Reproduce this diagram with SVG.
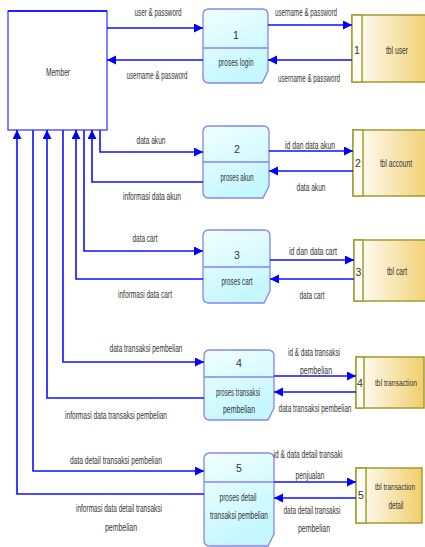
<svg xmlns="http://www.w3.org/2000/svg" width="425" height="547" viewBox="0 0 425 547">
<defs>
<linearGradient id="pg" x1="0" y1="0" x2="0.4" y2="1"><stop offset="0" stop-color="#F2FFFF"/><stop offset="1" stop-color="#C4F7FF"/></linearGradient>
<linearGradient id="tg" x1="0" y1="0" x2="1" y2="0"><stop offset="0" stop-color="#FFFFFF"/><stop offset="1" stop-color="#F1CD6A"/></linearGradient>
<marker id="ah" markerUnits="userSpaceOnUse" markerWidth="10" markerHeight="10" refX="9" refY="4.5" orient="auto"><path d="M0,0 L9,4.5 L0,9 z" fill="#0000FF"/></marker>
</defs>
<style>
text{font-family:"Liberation Sans Narrow","Liberation Sans",Arial,sans-serif;font-size:10.5px;fill:#333;text-anchor:middle}
.sm{font-size:9.5px}
.proc{fill:url(#pg);stroke:#8585F2;stroke-width:1.3}
.pl{fill:none;stroke:#8585F2;stroke-width:1.3}
.tb{fill:url(#tg);stroke:#A29C2E;stroke-width:1.5}
.tl{fill:#FFFEF6;stroke:#A29C2E;stroke-width:1.5}
.c{fill:none;stroke:#1010FF;stroke-width:1.6;marker-end:url(#ah)}
</style>
<g id="member">
<rect x="8" y="11" width="99" height="119" fill="#fff" stroke="#3C3CFF" stroke-width="1.3"/>
<line x1="8" y1="11" x2="107" y2="11" stroke="#2020FF" stroke-width="2"/>
<text x="58" y="76" textLength="24" lengthAdjust="spacingAndGlyphs">Member</text>
</g>
<g id="p1">
<path class="proc" d="M209,9 H262 Q268,9 268,15 V71 L262,83 H209 Q203,83 203,77 V15 Q203,9 209,9 Z"/>
<line class="pl" x1="203" y1="48" x2="268" y2="48"/>
<text x="236" y="39">1</text>
<text x="236" y="66" textLength="35" lengthAdjust="spacingAndGlyphs">proses login</text>
</g>
<g id="p2">
<path class="proc" d="M209,126 H263 Q269,126 269,132 V186 L263,198 H209 Q203,198 203,192 V132 Q203,126 209,126 Z"/>
<line class="pl" x1="203" y1="162" x2="269" y2="162"/>
<text x="237" y="153">2</text>
<text x="237" y="181" textLength="33" lengthAdjust="spacingAndGlyphs">proses akun</text>
</g>
<g id="p3">
<path class="proc" d="M209,230 H264 Q270,230 270,236 V291 L264,303 H209 Q203,303 203,297 V236 Q203,230 209,230 Z"/>
<line class="pl" x1="203" y1="267" x2="270" y2="267"/>
<text x="237" y="259">3</text>
<text x="237" y="285" textLength="31" lengthAdjust="spacingAndGlyphs">proses cart</text>
</g>
<g id="p4">
<path class="proc" d="M210,350 H268 Q274,350 274,356 V408 L268,420 H210 Q204,420 204,414 V356 Q204,350 210,350 Z"/>
<line class="pl" x1="204" y1="377" x2="274" y2="377"/>
<text x="239" y="367">4</text>
<text x="238" y="396" textLength="44" lengthAdjust="spacingAndGlyphs">proses transaksi</text>
<text x="239" y="413" textLength="32" lengthAdjust="spacingAndGlyphs">pembelian</text>
</g>
<g id="p5">
<path class="proc" d="M210,453 H268 Q274,453 274,459 V534 L268,546 H210 Q204,546 204,540 V459 Q204,453 210,453 Z"/>
<line class="pl" x1="204" y1="482" x2="274" y2="482"/>
<text x="239" y="472">5</text>
<text x="238" y="501" textLength="37" lengthAdjust="spacingAndGlyphs">proses detail</text>
<text x="239" y="519" textLength="58" lengthAdjust="spacingAndGlyphs">transaksi pembelian</text>
</g>
<g id="t1">
<rect class="tb" x="352" y="15" width="80" height="67"/>
<rect class="tl" x="352" y="15" width="10" height="67"/>
<text x="357" y="54">1</text>
<text x="397" y="54" textLength="22" lengthAdjust="spacingAndGlyphs">tbl user</text>
</g>
<g id="t2">
<rect class="tb" x="353" y="130" width="80" height="66"/>
<rect class="tl" x="353" y="130" width="10" height="66"/>
<text x="358" y="167">2</text>
<text x="396" y="167" textLength="32" lengthAdjust="spacingAndGlyphs">tbl account</text>
</g>
<g id="t3">
<rect class="tb" x="354" y="240" width="80" height="61"/>
<rect class="tl" x="354" y="240" width="9" height="61"/>
<text x="358.5" y="276">3</text>
<text x="397" y="275" textLength="20" lengthAdjust="spacingAndGlyphs">tbl cart</text>
</g>
<g id="t4">
<rect class="tb" x="356" y="357" width="68" height="51"/>
<rect class="tl" x="356" y="357" width="8" height="51"/>
<text x="360" y="387">4</text>
<text class="sm" x="396" y="386" textLength="42" lengthAdjust="spacingAndGlyphs">tbl transaction</text>
</g>
<g id="t5">
<rect class="tb" x="356" y="468" width="66" height="55"/>
<rect class="tl" x="356" y="468" width="10" height="55"/>
<text x="361" y="499">5</text>
<text class="sm" x="395" y="490" textLength="40" lengthAdjust="spacingAndGlyphs">tbl transaction</text>
<text x="396" y="509" textLength="15" lengthAdjust="spacingAndGlyphs">detail</text>
</g>
<g id="connectors">
<path class="c" d="M107,28 H203"/>
<path class="c" d="M203,60 H107"/>
<path class="c" d="M268,25 H352"/>
<path class="c" d="M352,60 H268"/>
<path class="c" d="M100,130 V152 H203"/>
<path class="c" d="M203,182 H92 V130"/>
<path class="c" d="M269,151 H353"/>
<path class="c" d="M353,171 H269"/>
<path class="c" d="M84,130 V251 H203"/>
<path class="c" d="M203,279 H76 V130"/>
<path class="c" d="M270,260 H354"/>
<path class="c" d="M354,279 H270"/>
<path class="c" d="M63,130 V362 H204"/>
<path class="c" d="M204,398 H47 V130"/>
<path class="c" d="M274,376 H356"/>
<path class="c" d="M356,392 H274"/>
<path class="c" d="M33,130 V471 H204"/>
<path class="c" d="M204,494 H17 V130"/>
<path class="c" d="M274,482 H356"/>
<path class="c" d="M356,498 H274"/>
</g>
<g id="labels">
<text x="158" y="16" textLength="47" lengthAdjust="spacingAndGlyphs">user &amp; password</text>
<text x="157" y="79" textLength="61" lengthAdjust="spacingAndGlyphs">username &amp; password</text>
<text x="306" y="16" textLength="62" lengthAdjust="spacingAndGlyphs">username &amp; password</text>
<text x="309" y="82" textLength="62" lengthAdjust="spacingAndGlyphs">username &amp; password</text>
<text x="151" y="144" textLength="29" lengthAdjust="spacingAndGlyphs">data akun</text>
<text x="152" y="200" textLength="58" lengthAdjust="spacingAndGlyphs">informasi data akun</text>
<text x="310" y="149" textLength="50" lengthAdjust="spacingAndGlyphs">id dan data akun</text>
<text x="311" y="191" textLength="29" lengthAdjust="spacingAndGlyphs">data akun</text>
<text x="145" y="242" textLength="25" lengthAdjust="spacingAndGlyphs">data cart</text>
<text x="145" y="298" textLength="54" lengthAdjust="spacingAndGlyphs">informasi data cart</text>
<text x="313" y="255" textLength="48" lengthAdjust="spacingAndGlyphs">id dan data cart</text>
<text x="312" y="299" textLength="25" lengthAdjust="spacingAndGlyphs">data cart</text>
<text x="146" y="352" textLength="73" lengthAdjust="spacingAndGlyphs">data transaksi pembelian</text>
<text x="116" y="419" textLength="102" lengthAdjust="spacingAndGlyphs">informasi data transaksi pembelian</text>
<text x="314" y="356" textLength="52" lengthAdjust="spacingAndGlyphs">id &amp; data transaksi</text>
<text x="316" y="374" textLength="32" lengthAdjust="spacingAndGlyphs">pembelian</text>
<text x="315" y="412" textLength="73" lengthAdjust="spacingAndGlyphs">data transaksi pembelian</text>
<text x="116" y="464" textLength="92" lengthAdjust="spacingAndGlyphs">data detail transaksi pembelian</text>
<text x="119" y="512" textLength="86" lengthAdjust="spacingAndGlyphs">informasi data detail transaksi</text>
<text x="121" y="531" textLength="32" lengthAdjust="spacingAndGlyphs">pembelian</text>
<text x="308" y="458" textLength="69" lengthAdjust="spacingAndGlyphs">id &amp; data detail transaki</text>
<text x="310" y="479" textLength="29" lengthAdjust="spacingAndGlyphs">penjualan</text>
<text x="312" y="514" textLength="57" lengthAdjust="spacingAndGlyphs">data detail transaksi</text>
<text x="314" y="532" textLength="32" lengthAdjust="spacingAndGlyphs">pembelian</text>
</g>
</svg>
